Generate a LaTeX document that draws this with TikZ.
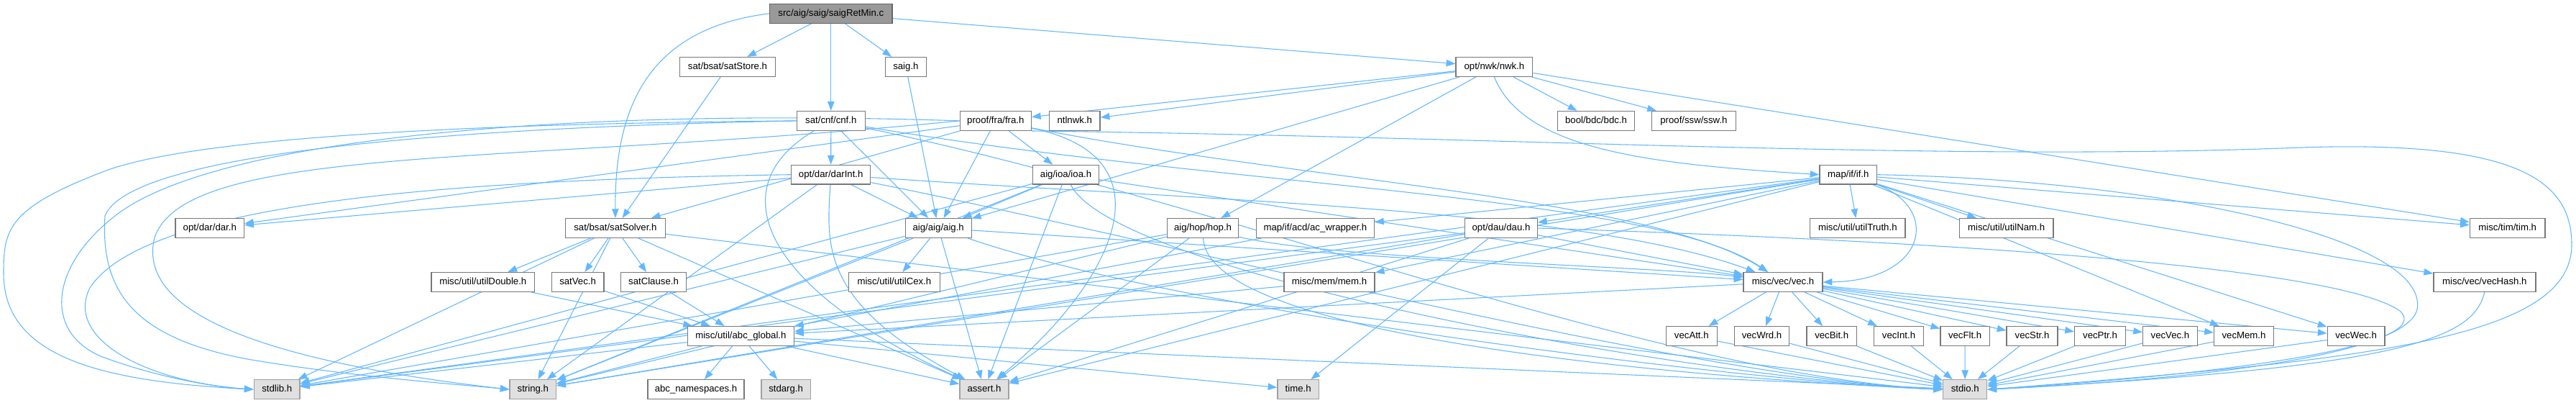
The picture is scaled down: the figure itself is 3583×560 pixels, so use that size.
\documentclass[tikz,border=0pt]{standalone}
\usepackage{fontspec}
\setmainfont{Liberation Sans}
\usetikzlibrary{arrows.meta}
\definecolor{edgec}{HTML}{63B8FF}
\definecolor{nodeb}{HTML}{787878}
\definecolor{sysb}{HTML}{A0A0A0}
\definecolor{sysf}{HTML}{E0E0E0}
\definecolor{rootb}{HTML}{666666}
\definecolor{rootf}{HTML}{999999}
\pgfdeclarelayer{background}
\pgfsetlayers{background,main}
\newcommand\gnode[6]{\node[#1, minimum width=#5*0.75pt] (#2) at (#3,#4) {#6};}
\begin{document}
\begin{tikzpicture}[x=0.75pt,y=-0.75pt,
  every node/.style={font=\fontsize{9.9pt}{11pt}\selectfont},
  box/.style={draw=nodeb, fill=white, line width=1pt, inner xsep=2pt, inner ysep=0pt, minimum height=20.1pt, text height=7.3pt, text depth=2.1pt},
  sysbox/.style={box, draw=sysb, fill=sysf},
  rootbox/.style={box, draw=rootb, fill=rootf},
  dep/.style={draw=edgec, line width=0.8pt, -{Triangle[length=9.5pt,width=7pt]}}]
\useasboundingbox (0,0) rectangle (3583,560);

% row 1
\gnode{rootbox}{src}{1155.8}{18.8}{170.2}{src/aig/saig/saigRetMin.c}
% row 2
\gnode{box}{satStore}{1012}{92.9}{132.8}{sat/bsat/satStore.h}
\gnode{box}{saig}{1259.9}{92.9}{57}{saig.h}
\gnode{box}{nwk}{2078.4}{92.9}{106.8}{opt/nwk/nwk.h}
% row 3
\gnode{box}{cnf}{1155.8}{167.9}{95}{sat/cnf/cnf.h}
\gnode{box}{fra}{1384.8}{167.9}{99}{proof/fra/fra.h}
\gnode{box}{ntlnwk}{1494.7}{167.9}{70.7}{ntlnwk.h}
\gnode{box}{bdc}{2220}{167.9}{106.8}{bool/bdc/bdc.h}
\gnode{box}{ssw}{2355.9}{167.9}{116.7}{proof/ssw/ssw.h}
% row 4
\gnode{box}{darInt}{1155.7}{242.7}{110}{opt/dar/darInt.h}
\gnode{box}{ioa}{1482.5}{242.7}{91.6}{aig/ioa/ioa.h}
\gnode{box}{ifh}{2570.8}{242.7}{79.7}{map/if/if.h}
% row 5
\gnode{box}{dar}{291.8}{317}{95.3}{opt/dar/dar.h}
\gnode{box}{satSolver}{855.9}{317}{138.9}{sat/bsat/satSolver.h}
\gnode{box}{aig}{1305.2}{317}{91.9}{aig/aig/aig.h}
\gnode{box}{hop}{1673}{317}{99.5}{aig/hop/hop.h}
\gnode{box}{acw}{1829.4}{317}{164.1}{map/if/acd/ac\_wrapper.h}
\gnode{box}{dau}{2088}{317}{100.6}{opt/dau/dau.h}
\gnode{box}{utilTruth}{2583.8}{317}{132.3}{misc/util/utilTruth.h}
\gnode{box}{utilNam}{2790.6}{317}{130.5}{misc/util/utilNam.h}
\gnode{box}{tim}{3487.7}{317}{104.8}{misc/tim/tim.h}
% row 6
\gnode{box}{utilDouble}{671.8}{392}{143.5}{misc/util/utilDouble.h}
\gnode{box}{satVec}{803.6}{392}{72.8}{satVec.h}
\gnode{box}{satClause}{909}{392}{91.5}{satClause.h}
\gnode{box}{utilCex}{1243.9}{392}{126.6}{misc/util/utilCex.h}
\gnode{box}{mem}{1849}{392}{126.2}{misc/mem/mem.h}
\gnode{box}{vec}{2480}{392}{110}{misc/vec/vec.h}
\gnode{box}{vecHash}{3455.8}{392}{142}{misc/vec/vecHash.h}
% row 7
\gnode{box}{abcg}{1030.4}{467}{148.1}{misc/util/abc\_global.h}
\gnode{box}{vecAtt}{2352.8}{467}{70.8}{vecAtt.h}
\gnode{box}{vecWrd}{2450.5}{467}{76.6}{vecWrd.h}
\gnode{box}{vecBit}{2547.7}{467}{69.6}{vecBit.h}
\gnode{box}{vecInt}{2641}{467}{68.5}{vecInt.h}
\gnode{box}{vecFlt}{2733.1}{467}{68.5}{vecFlt.h}
\gnode{box}{vecStr}{2826.5}{467}{70.8}{vecStr.h}
\gnode{box}{vecPtr}{2921}{467}{70.8}{vecPtr.h}
\gnode{box}{vecVec}{3018.4}{467}{75.5}{vecVec.h}
\gnode{box}{vecMem}{3121}{467}{82.9}{vecMem.h}
\gnode{box}{vecWec}{3277.1}{467}{79.9}{vecWec.h}
% row 8
\gnode{sysbox}{stdlib}{385.2}{541.2}{63.9}{stdlib.h}
\gnode{sysbox}{string}{741.3}{541.2}{64.3}{string.h}
\gnode{box}{abcns}{968}{541.2}{134.3}{abc\_namespaces.h}
\gnode{sysbox}{stdarg}{1093.1}{541.2}{68.5}{stdarg.h}
\gnode{sysbox}{assert}{1369}{541.2}{68.1}{assert.h}
\gnode{sysbox}{time}{1805.7}{541.2}{57.4}{time.h}
\gnode{sysbox}{stdio}{2733.2}{541.2}{60.9}{stdio.h}

\begin{pgfonlayer}{background}
\fill[white] (0,0) rectangle (3583,560);
\foreach \a/\b in {src/saig, src/cnf, src/satStore, src/nwk,
  saig/aig, satStore/satSolver,
  cnf/darInt, cnf/aig,
  darInt/dar, darInt/aig, darInt/string,
  fra/dar, fra/satSolver, fra/aig, fra/ioa,
  nwk/fra, nwk/ntlnwk, nwk/aig, nwk/hop, nwk/bdc, nwk/ssw, nwk/tim,
  ioa/aig, ioa/assert, ioa/stdlib, ioa/string, ioa/vec,
  aig/utilCex, aig/assert, aig/stdlib, aig/string, aig/vec,
  hop/stdlib, hop/string, hop/assert,
  ifh/utilTruth, ifh/utilNam, ifh/tim, ifh/vecHash, ifh/vecMem, ifh/vecWec,
  ifh/dau, ifh/acw, ifh/mem, ifh/stdlib, ifh/string, ifh/assert,
  dau/vec, dau/stdlib, dau/string, dau/assert, dau/time,
  satSolver/utilDouble, satSolver/satVec, satSolver/satClause, satSolver/stdlib,
  satSolver/string, satSolver/assert, satSolver/stdio,
  utilDouble/abcg, satVec/abcg, satClause/abcg, mem/abcg, acw/abcg, vec/abcg,
  abcg/stdlib, abcg/string, abcg/abcns, abcg/stdarg, abcg/assert, abcg/time, abcg/stdio,
  vec/vecAtt, vec/vecWrd, vec/vecBit, vec/vecInt, vec/vecFlt, vec/vecStr,
  vec/vecPtr, vec/vecVec, vec/vecMem, vec/vecWec,
  vecAtt/stdio, vecWrd/stdio, vecBit/stdio, vecInt/stdio, vecFlt/stdio,
  vecStr/stdio, vecPtr/stdio, vecVec/stdio, vecMem/stdio, vecWec/stdio}
  \draw[dep] (\a) -- (\b);
% curved connectors
\draw[dep] (src.west) .. controls (900,40) and (855,150) .. (satSolver.north);
\draw[dep] (cnf) .. controls (1000,260) and (1060,400) .. (assert);
\draw[dep] (darInt) .. controls (1150,340) and (1140,420) .. (assert);
\draw[dep] (fra) .. controls (1640,220) and (1540,400) .. (assert);
% connectors to misc/vec/vec.h
\draw[dep] (cnf) .. controls (1700,260) and (2300,270) .. (vec);
\draw[dep] (fra) .. controls (1800,250) and (2300,275) .. (vec);
\draw[dep] (darInt) .. controls (1700,280) and (2200,290) .. (vec);
\draw[dep] (hop) .. controls (1850,360) and (2300,370) .. (vec);
% connectors to stdio.h from the left
\draw[dep] (cnf) .. controls (1700,280) and (2300,520) .. (stdio.west);
\draw[dep] (darInt) .. controls (1600,330) and (2350,525) .. (stdio.west);
\draw[dep] (ioa) .. controls (1550,380) and (2350,525) .. (stdio.west);
\draw[dep] (aig) .. controls (1655,437) and (2450,532) .. (stdio.west);
\draw[dep] (hop) .. controls (1680,480) and (2450,530) .. (stdio.west);
% loops round the left side
\draw[dep] (cnf.west) .. controls (600,172) and (250,195) .. (140,240)
  .. controls (10,290) and (5,320) .. (5,380)
  .. controls (5,500) and (150,530) .. (stdlib.west);
\draw[dep] (cnf.west) .. controls (600,178) and (180,215) .. (146,300)
  .. controls (140,400) and (180,470) .. (350,500)
  .. controls (500,525) and (650,535) .. (string.west);
\draw[dep] (fra.west) .. controls (800,150) and (300,190) .. (160,300)
  .. controls (70,370) and (60,460) .. (140,495)
  .. controls (220,525) and (300,538) .. (stdlib.west);
\draw[dep] (fra.west) .. controls (700,230) and (260,200) .. (215,330)
  .. controls (190,430) and (350,500) .. (string.west);
\draw[dep] (darInt.west) .. controls (600,250) and (200,285) .. (125,400)
  .. controls (90,470) and (200,530) .. (stdlib.west);
% loops round the right side
\draw[dep] (fra.south east) .. controls (2100,190) and (2700,225) .. (3200,205)
  .. controls (3500,195) and (3577,250) .. (3577,340)
  .. controls (3577,470) and (3300,500) .. (stdio.east);
\draw[dep] (ifh.east) .. controls (3000,250) and (3380,330) .. (3362,430)
  .. controls (3345,500) and (3000,530) .. (stdio.east);
\draw[dep] (dau.east) .. controls (2700,335) and (3250,370) .. (3338,432)
  .. controls (3390,480) and (3100,520) .. (stdio.east);
\draw[dep] (nwk.south) .. controls (2120,210) and (2300,228) .. (ifh.west);
\draw[dep] (ifh.south east) .. controls (2700,290) and (2680,390) .. (vec.east);
\draw[dep] (vecHash.south) .. controls (3440,470) and (3350,510) .. (stdio.east);
\end{pgfonlayer}
\end{tikzpicture}
\end{document}
